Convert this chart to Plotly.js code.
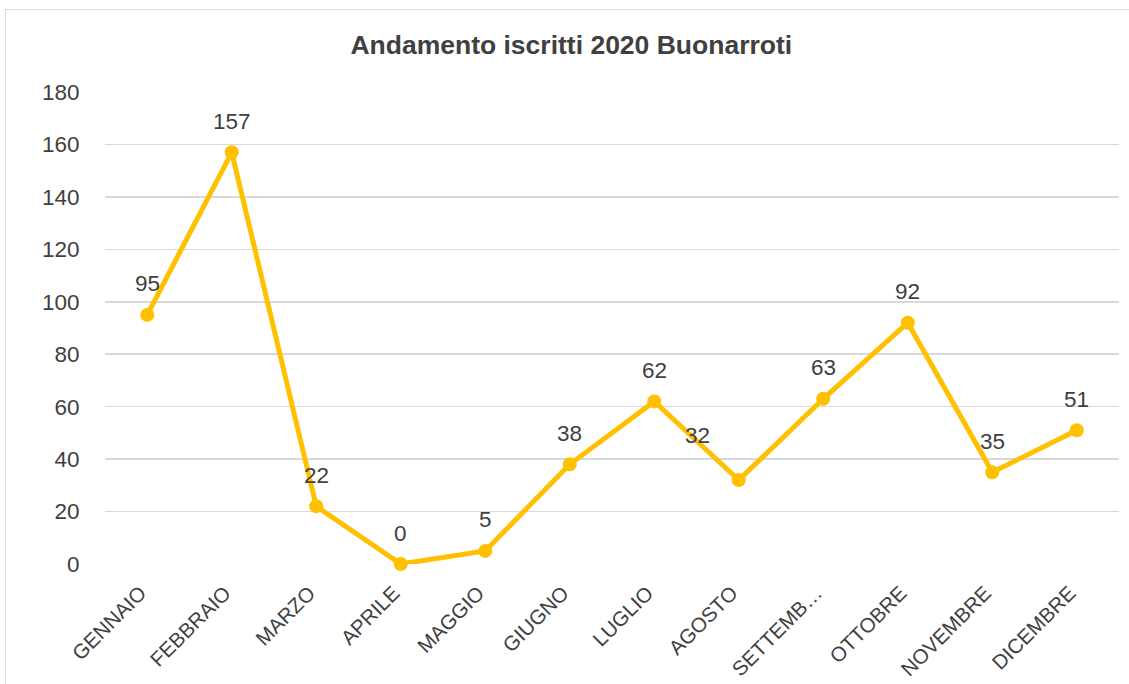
<!DOCTYPE html>
<html><head><meta charset="utf-8">
<script src="https://cdn.plot.ly/plotly-3.0.1.min.js"></script>
<style>
html,body{margin:0;padding:0;background:#fff;overflow:hidden}
#frame{position:absolute;left:5px;top:9px;width:1140px;height:700px;border:1.5px solid #d9d9d9;box-sizing:border-box;pointer-events:none;z-index:5}
#chart{position:absolute;left:0;top:0;width:1129px;height:684px}
</style></head>
<body>
<div id="chart"></div>
<div id="frame"></div>
<script>
const months = ["GENNAIO","FEBBRAIO","MARZO","APRILE","MAGGIO","GIUGNO","LUGLIO","AGOSTO","SETTEMBRE","OTTOBRE","NOVEMBRE","DICEMBRE"];
const tickLabels = ["GENNAIO","FEBBRAIO","MARZO","APRILE","MAGGIO","GIUGNO","LUGLIO","AGOSTO","SETTEMB…","OTTOBRE","NOVEMBRE","DICEMBRE"];
const iscritti = [95,157,22,0,5,38,62,32,63,92,35,51];
const labelShiftX = [0,0,0,0,0,0,0,-41,0,0,0,0];
const labelShiftY = [31,31,31,31,31,31,31,45,31,31,31,31];

const fontFam = "Liberation Sans, Arial, sans-serif";
const textCol = "#404040";

const trace = {
  x: months, y: iscritti, type: "scatter", mode: "lines+markers",
  line: {color: "#FFC000", width: 5},
  marker: {color: "#FFC000", size: 14},
  hoverinfo: "skip", cliponaxis: false
};

const annotations = months.map((m,i)=>({
  x: m, y: iscritti[i], xref: "x", yref: "y", text: String(iscritti[i]),
  showarrow: false, xshift: labelShiftX[i], yshift: labelShiftY[i],
  font: {family: fontFam, size: 22.5, color: textCol}
}));

const layout = {
  width: 1129, height: 684,
  margin: {l: 105, r: 10, t: 92, b: 120},
  paper_bgcolor: "#fff", plot_bgcolor: "#fff",
  showlegend: false,
  title: {text: "<b>Andamento iscritti 2020 Buonarroti</b>", x: 0.506, xanchor: "center", xref: "container", y: 0.935, yanchor: "middle",
    font: {family: fontFam, size: 26.5, color: textCol}},
  xaxis: {
    type: "category", range: [-0.5, 11.5], tickvals: months, ticktext: tickLabels,
    tickangle: -45, showgrid: false, zeroline: false, showline: false,
    ticks: "outside", ticklen: 8, tickcolor: "rgba(0,0,0,0)", ticklabelshift: -7,
    tickfont: {family: fontFam, size: 20.5, color: textCol}, fixedrange: true
  },
  yaxis: {
    range: [0, 180], dtick: 20, tick0: 0, showgrid: true, gridcolor: "#d9d9d9", gridwidth: 1.5,
    zeroline: false, showline: false, ticks: "outside", ticklen: 20, tickcolor: "rgba(0,0,0,0)",
    tickfont: {family: fontFam, size: 22.5, color: textCol}, fixedrange: true
  },
  annotations: annotations
};

Plotly.newPlot("chart", [trace], layout, {displayModeBar: false, staticPlot: true});
</script>
</body></html>
